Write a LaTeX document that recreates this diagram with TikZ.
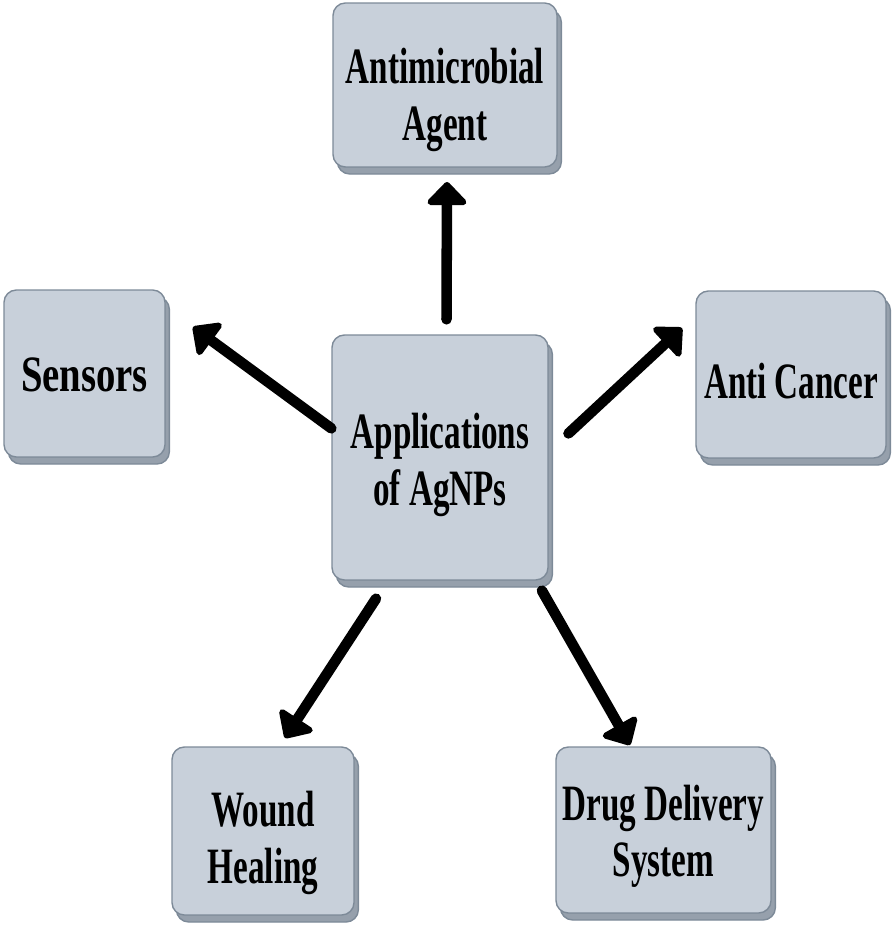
\documentclass[tikz,border=0pt]{standalone}
\usepackage{fontspec}
\setmainfont[FakeStretch=0.65]{Liberation Serif}
\newfontfamily\wideserif[FakeStretch=0.76]{Liberation Serif}
\usetikzlibrary{arrows.meta,shadows}
\definecolor{boxF}{RGB}{200,208,218}
\definecolor{boxD}{RGB}{125,138,152}
\definecolor{boxS}{RGB}{150,160,172}

\begin{document}
\begin{tikzpicture}[x=0.02cm,y=-0.02cm,
  app/.style={draw=boxD,fill=boxF,line width=0.8pt,rounded corners=7pt,inner sep=0pt,
    general shadow={fill=boxS,draw=boxD,shadow xshift=2.5pt,shadow yshift=-4pt}},
  txt/.style={align=center,inner sep=0pt,font=\fontsize{29}{32}\selectfont\bfseries},
  >={Triangle[length=14pt,width=26pt,round]},
  arr/.style={->,line width=6pt,line cap=round}]
\useasboundingbox (0,0) rectangle (894,925);
% boxes
\node[app,minimum width=4.48cm,minimum height=3.28cm,
  label={[txt,yshift=-0.3cm]center:{Antimicrobial\\Agent}}] (amb) at (445,85) {};
\node[app,minimum width=3.22cm,minimum height=3.34cm,
  label={[txt,yshift=-0.02cm]center:{\wideserif Sensors}}] (sen) at (84.5,373.5) {};
\node[app,minimum width=4.32cm,minimum height=4.9cm,
  label={[txt,yshift=-0.15cm]center:{Applications\\of AgNPs}}] (ctr) at (440,457.5) {};
\node[app,minimum width=3.8cm,minimum height=3.34cm,
  label={[txt,yshift=-0.13cm]center:{Anti Cancer}}] (can) at (791,374.5) {};
\node[app,minimum width=3.64cm,minimum height=3.36cm,
  label={[txt,yshift=-0.24cm]center:{Wound\\Healing}}] (wnd) at (263,831) {};
\node[app,minimum width=4.3cm,minimum height=3.32cm,
  label={[txt,yshift=-0.12cm]center:{Drug Delivery\\System}}] (drg) at (663.5,830) {};
% arrow tips
\coordinate (ambT) at (447,182);
\coordinate (senT) at (193,327);
\coordinate (canT) at (682,328);
\coordinate (wndT) at (285,738);
\coordinate (drgT) at (630,745);
% arrows
\draw[arr,shorten <=0.3cm] (ctr.87) -- (ambT);
\draw[arr] (ctr.165) -- (senT);
\draw[arr,shorten <=0.54cm] (ctr.3) -- (canT);
\draw[arr,shorten <=0.43cm] (ctr.247) -- (wndT);
\draw[arr,shorten <=0.23cm] (ctr.308) -- (drgT);
\end{tikzpicture}
\end{document}
